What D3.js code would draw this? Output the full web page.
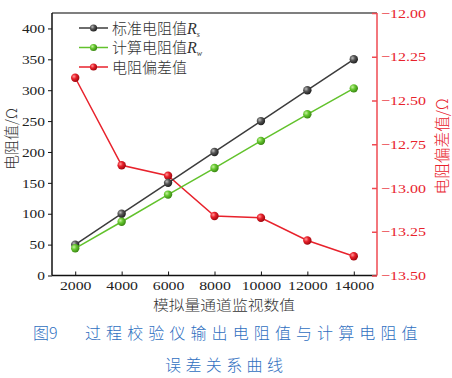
<!DOCTYPE html>
<html><head><meta charset="utf-8">
<script src="https://cdn.jsdelivr.net/npm/d3@7/dist/d3.min.js"></script>
<style>
html,body{margin:0;padding:0;background:#fff;}
svg{display:block;}
.num{font-family:'Liberation Serif','Times New Roman',serif !important;}
.cjk{font-family:'Noto Sans CJK SC',sans-serif;font-weight:300;}
</style></head><body>
<svg id="c" width="452" height="378"></svg>
<script>
const xValues = [2000, 4000, 6000, 8000, 10000, 12000, 14000];
const standardR = [50, 100, 150, 200, 250, 300, 350];
const calculatedR = [44, 87, 131, 174, 218, 261, 303];
const deviation = [-12.37, -12.87, -12.93, -13.16, -13.17, -13.30, -13.39];
const xTicks = [2000, 4000, 6000, 8000, 10000, 12000, 14000];
const yLeftTicks = [0, 50, 100, 150, 200, 250, 300, 350, 400];
const yRightTicks = [-12.00, -12.25, -12.50, -12.75, -13.00, -13.25, -13.50];
const legendLabels = ["标准电阻值", "计算电阻值", "电阻偏差值"];
const legendSubs = ["s", "w", ""];
const xTitle = "模拟量通道监视数值";
const yLeftTitle = "电阻值/Ω";
const yRightTitle = "电阻偏差值/Ω";
const caption1a = "图9";
const caption1b = "过程校验仪输出电阻值与计算电阻值";
const caption2 = "误差关系曲线";

const svg = d3.select("#c");
const L = 52, R = 377, T = 13, B = 275.5;
const red = "#e8222c", redAxis = "#ef4a52", green = "#62c22c", dark = "#3c3c3c";

const x = d3.scaleLinear().domain([1000, 15000]).range([L, R]);
const yL = d3.scaleLinear().domain([0, 425]).range([B, T]);
const yR = d3.scaleLinear().domain([-13.5, -12]).range([B, T]);

const defs = svg.append("defs");
function grad(id, light, base, dk) {
  const g = defs.append("radialGradient").attr("id", id).attr("cx", "35%").attr("cy", "35%").attr("r", "65%");
  g.append("stop").attr("offset", "0%").attr("stop-color", light);
  g.append("stop").attr("offset", "45%").attr("stop-color", base);
  g.append("stop").attr("offset", "100%").attr("stop-color", dk);
}
grad("gk", "#bcbcbc", "#555", "#222");
grad("gg", "#c8f0a0", "#66c830", "#3c8a14");
grad("gr", "#ff9a9a", "#e8202a", "#a00810");

svg.append("line").attr("x1", L).attr("x2", R).attr("y1", T).attr("y2", T).attr("stroke", "#555").attr("stroke-width", 1.5);

function styleNums(g, fill, perChar, fixed) {
  g.attr("font-family", null).attr("font-size", null);
  g.selectAll("text").attr("class", "num").attr("font-size", 13).attr("fill", fill)
    .attr("lengthAdjust", "spacingAndGlyphs")
    .attr("textLength", function() { return fixed || this.textContent.length * perChar; });
}

const gL = svg.append("g").attr("transform", `translate(${L},0)`)
  .call(d3.axisLeft(yL).tickValues(yLeftTicks).tickSize(4).tickPadding(3).tickFormat(d3.format("d")));
gL.select(".domain").attr("d", `M0,${T}V${B}`).attr("stroke", "#111").attr("stroke-width", 1.5);
gL.selectAll("line").attr("stroke", "#111");
styleNums(gL, "#222", 7.7);

const gB = svg.append("g").attr("transform", `translate(0,${B})`)
  .call(d3.axisBottom(x).tickValues(xTicks).tickSize(-4).tickPadding(5).tickFormat(d3.format("d")));
gB.select(".domain").attr("d", `M${L},0H${R}`).attr("stroke", "#111").attr("stroke-width", 1.5);
gB.selectAll("line").attr("stroke", "#111");
styleNums(gB, "#222", 7.9);

const gR = svg.append("g").attr("transform", `translate(${R},0)`)
  .call(d3.axisRight(yR).tickValues(yRightTicks).tickSize(-5).tickPadding(4).tickFormat(d => d3.format(".2f")(d).replace("-", "−")));
gR.select(".domain").attr("d", `M0,${T}V${B}`).attr("stroke", redAxis).attr("stroke-width", 1.5);
gR.selectAll("line").attr("stroke", redAxis).attr("stroke-width", 1.5);
styleNums(gR, red, 0, 45);

function series(vals, yScale, color, gid) {
  const line = d3.line().x((d, i) => x(xValues[i])).y(d => yScale(d));
  svg.append("path").datum(vals).attr("d", line).attr("fill", "none").attr("stroke", color).attr("stroke-width", 1.5);
  svg.append("g").selectAll("circle").data(vals).join("circle")
    .attr("cx", (d, i) => x(xValues[i])).attr("cy", d => yScale(d)).attr("r", 4.2)
    .attr("fill", `url(#${gid})`);
}
series(deviation, yR, red, "gr");
series(standardR, yL, dark, "gk");
series(calculatedR, yL, green, "gg");

const legColors = [dark, green, red], legG = ["gk", "gg", "gr"];
const lg = svg.append("g");
legendLabels.forEach((lab, i) => {
  const yy = 28 + i * 19.5;
  lg.append("line").attr("x1", 79).attr("x2", 108).attr("y1", yy).attr("y2", yy).attr("stroke", legColors[i]).attr("stroke-width", 1.5);
  lg.append("circle").attr("cx", 93.5).attr("cy", yy).attr("r", 3.6).attr("fill", `url(#${legG[i]})`);
  const t = lg.append("text").attr("x", 112).attr("y", yy + 5.5).attr("font-size", 15).attr("fill", "#333").attr("class", "cjk");
  t.append("tspan").text(lab);
  if (legendSubs[i]) {
    t.append("tspan").text("R").attr("class", "num").style("font-style", "italic").attr("font-size", 16);
    t.append("tspan").text(legendSubs[i]).attr("class", "num").style("font-style", "italic").attr("font-size", 8).attr("dy", 3);
  }
});

svg.append("text").attr("transform", "translate(17,139) rotate(-90)").attr("text-anchor", "middle").attr("class", "cjk")
  .attr("font-size", 15).attr("fill", "#333").text(yLeftTitle);
svg.append("text").attr("transform", "translate(448,146.5) rotate(-90)").attr("text-anchor", "middle").attr("class", "cjk")
  .attr("font-size", 15.5).attr("fill", red).attr("textLength", 96).attr("lengthAdjust", "spacingAndGlyphs").text(yRightTitle);
svg.append("text").attr("x", 224).attr("y", 309.5).attr("text-anchor", "middle").attr("class", "cjk")
  .attr("font-size", 14).attr("fill", "#333").attr("textLength", 142).attr("lengthAdjust", "spacingAndGlyphs").text(xTitle);

const blue = "#2f6fbf";
svg.append("text").attr("x", 33).attr("y", 339).attr("font-size", 16).attr("fill", blue).attr("class", "cjk").text(caption1a);
svg.append("text").attr("x", 85).attr("y", 339).attr("font-size", 16).attr("fill", blue).attr("letter-spacing", 5.1).attr("class", "cjk").text(caption1b);
svg.append("text").attr("x", 165).attr("y", 371).attr("font-size", 16).attr("fill", blue).attr("letter-spacing", 4.4).attr("class", "cjk").text(caption2);
</script>
</body></html>
